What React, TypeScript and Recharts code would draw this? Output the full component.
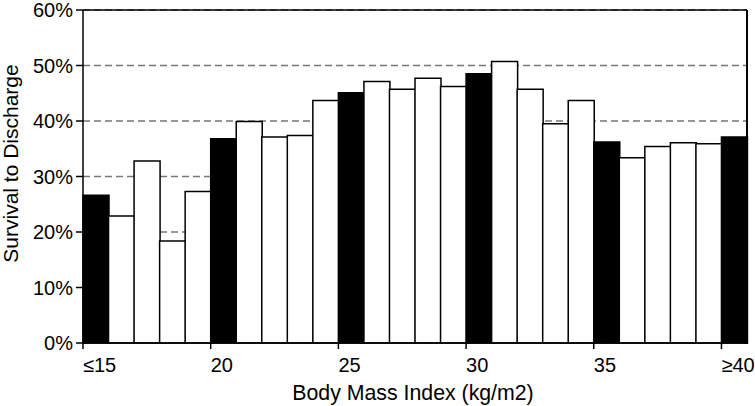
import { BarChart, Bar, Cell, XAxis, YAxis, CartesianGrid, ReferenceLine } from 'recharts';

const bmi = [15, 16, 17, 18, 19, 20, 21, 22, 23, 24, 25, 26, 27, 28, 29, 30, 31, 32, 33, 34, 35, 36, 37, 38, 39, 40];
const survival = [
  26.6, 22.9, 32.8, 18.4, 27.3, 36.8, 39.9, 37.1, 37.4, 43.7, 45.1, 47.1, 45.7,
  47.7, 46.2, 48.5, 50.7, 45.7, 39.5, 43.7, 36.2, 33.4, 35.4, 36.1, 35.9, 37.1,
];
const xTicks = [15, 20, 25, 30, 35, 40];
const yTicks = [0, 10, 20, 30, 40, 50, 60];

const data = bmi.map((b, i) => ({ bmi: b, value: survival[i] }));

const FONT = '"Liberation Sans", Arial, sans-serif';

function xLabel(v: number) {
  if (v === 15) return '≤15';
  if (v === 40) return '≥40';
  return String(v);
}

// ticks sit on the left edge of each bin, labels start there
function XTick(props: any) {
  const { x, y, payload, width } = props;
  if (!xTicks.includes(payload.value)) return <g />;
  const left = x - width / bmi.length / 2;
  return (
    <g>
      <line x1={left} y1={y} x2={left} y2={y + 6} stroke="#000" strokeWidth={1.5} />
      <text x={left} y={y + 29} fill="#000" fontSize={20} fontFamily={FONT} textAnchor="start">
        {xLabel(payload.value)}
      </text>
    </g>
  );
}

export default function App() {
  return (
    <div style={{ position: 'absolute', left: 0, top: 0, background: '#fff' }}>
      <BarChart
        width={755}
        height={406}
        data={data}
        margin={{ top: 10, right: 8, bottom: 0, left: 0 }}
        barCategoryGap={0}
        barGap={0}
      >
        <CartesianGrid vertical={false} stroke="#777" strokeDasharray="7 4" strokeWidth={1.5} />
        <XAxis
          dataKey="bmi"
          interval={0}
          tick={<XTick />}
          tickSize={0}
          tickMargin={0}
          tickLine={false}
          axisLine={{ stroke: '#000', strokeWidth: 1.5 }}
          height={63}
          label={{
            position: 'insideBottom',
            content: (p: any) => {
              const vb = p.viewBox;
              return (
                <text
                  x={vb.x + vb.width / 2 - 2}
                  y={vb.y + vb.height - 6}
                  fill="#000"
                  fontSize={21.3}
                  fontFamily={FONT}
                  textAnchor="middle"
                >
                  Body Mass Index (kg/m2)
                </text>
              );
            },
          }}
        />
        <YAxis
          domain={[0, 60]}
          ticks={yTicks}
          interval={0}
          width={83}
          tickSize={7}
          tickMargin={3}
          tickFormatter={(v: number) => `${v}%`}
          tick={{ fill: '#000', fontSize: 20, fontFamily: FONT }}
          tickLine={{ stroke: '#000', strokeWidth: 1.5 }}
          axisLine={{ stroke: '#000', strokeWidth: 1.5 }}
          label={{
            position: 'insideLeft',
            content: (p: any) => {
              const vb = p.viewBox;
              const cy = vb.y + vb.height / 2 - 13;
              return (
                <text
                  x={18}
                  y={cy}
                  transform={`rotate(-90, 18, ${cy})`}
                  fill="#000"
                  fontSize={21}
                  fontFamily={FONT}
                  textAnchor="middle"
                >
                  Survival to Discharge
                </text>
              );
            },
          }}
        />
        <Bar dataKey="value" isAnimationActive={false} stroke="#000" strokeWidth={1.5}>
          {data.map((d, i) => (
            <Cell key={`c-${i}`} fill={d.bmi % 5 === 0 ? '#000' : '#fff'} />
          ))}
        </Bar>
        <ReferenceLine y={60} stroke="#000" strokeWidth={1.5} />
      </BarChart>
      <div
        style={{
          position: 'absolute',
          left: 746,
          top: 10,
          width: 1.5,
          height: 334,
          background: '#000',
        }}
      />
    </div>
  );
}
